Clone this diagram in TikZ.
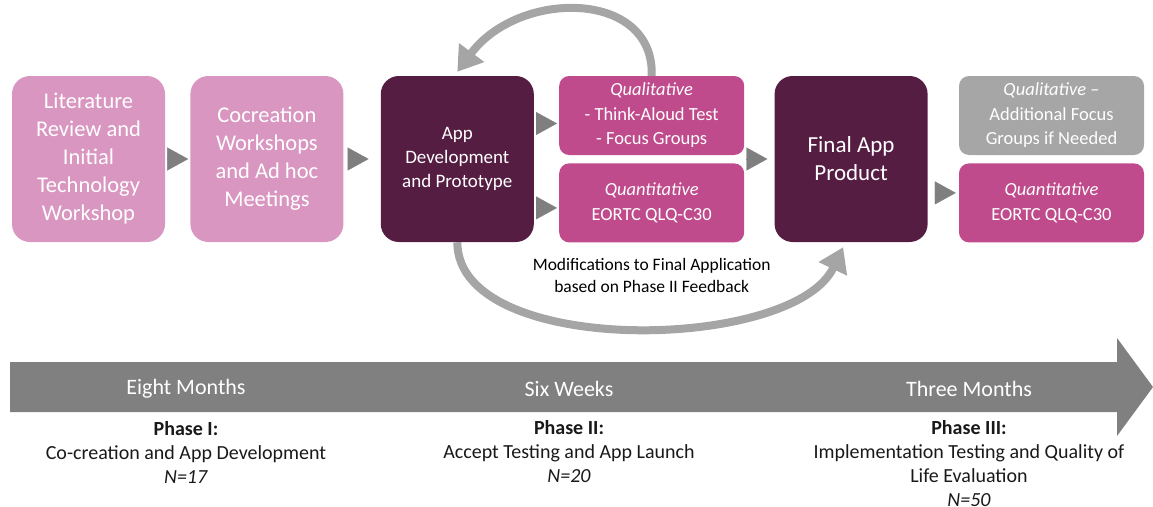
\documentclass[tikz,border=0pt]{standalone}
\usepackage{fontspec}
\setmainfont{Carlito}
\usetikzlibrary{arrows.meta,positioning}
\definecolor{softpink}{HTML}{D896C0}
\definecolor{plum}{HTML}{561D43}
\definecolor{berry}{HTML}{BF4B8C}
\definecolor{boxgray}{HTML}{A6A6A6}
\definecolor{trigray}{HTML}{7F7F7F}
\definecolor{loopgray}{HTML}{A5A5A5}
\definecolor{timegray}{HTML}{808080}

\tikzset{
  bigbox/.style={minimum width=153pt, minimum height=166pt, rounded corners=18pt,
    text=white, align=center, inner sep=0pt},
  softbox/.style={bigbox, fill=softpink, font=\fontsize{22.5}{28}\selectfont},
  darkbox/.style={bigbox, fill=plum},
  smallbox/.style={minimum width=185pt, minimum height=79pt, rounded corners=10pt,
    text=white, align=center, inner sep=0pt, fill=berry,
    font=\fontsize{18.5}{24.5}\selectfont},
  tri/.style={<-, draw=trigray, fill=trigray, line width=0.3pt,
    >={Triangle[length=21pt,width=23pt]}},
  loopline/.style={draw=loopgray, line width=8pt,
    -{Triangle[length=24pt,width=30pt]}},
  notelabel/.style={align=center, inner sep=0pt, font=\fontsize{17.5}{22}\selectfont},
  timelabel/.style={text=white, inner sep=0pt, font=\fontsize{22}{26}\selectfont},
  phasetext/.style={align=center, inner sep=0pt, text=black!90,
    font=\fontsize{20}{24}\selectfont}
}

\begin{document}
\begin{tikzpicture}[x=1pt, y=1pt, node distance=25pt]
 \useasboundingbox (0,0) rectangle (1153,-506);

 \node[softbox] (lit) at (88.5,-159) {Literature\\Review and\\Initial\\Technology\\Workshop};
 \node[softbox, right=25pt of lit] (cocreate) {Cocreation\\Workshops\\and Ad hoc\\Meetings}
     edge[tri, shorten <=2pt, shorten >=2pt] (lit);
 \node[darkbox, right=37pt of cocreate, font=\fontsize{19}{24}\selectfont] (proto)
     {App\\Development\\and Prototype}
     edge[tri, shorten <=12pt, shorten >=4pt] (cocreate);

 \node[smallbox, right=25pt of proto.north east, anchor=north west] (qual1)
     {\textit{Qualitative}\\- Think-Aloud Test\\- Focus Groups};
 \node[smallbox, below=8pt of qual1] (quant1)
     {\textit{Quantitative}\\EORTC QLQ-C30};

 \node[darkbox, right=30pt of qual1.north east, anchor=north west,
     font=\fontsize{23}{28}\selectfont] (final) {Final App\\Product};

 \node[smallbox, fill=boxgray, right=31pt of final.north east, anchor=north west] (qual2)
     {\textit{Qualitative} –\\Additional Focus\\Groups if Needed};
 \node[smallbox, below=8pt of qual2] (quant2)
     {\textit{Quantitative}\\EORTC QLQ-C30};

 \path (qual1.west) ++(0,-8) coordinate (qualin);
 \path (quant1.west) ++(0,-5) coordinate (quantin);
 \path (quant2.west) ++(0,10) coordinate (finalout);
 \draw[tri, shorten <=2pt, shorten >=2pt] (qualin) -- (qualin -| proto.east);
 \draw[tri, shorten <=2pt, shorten >=2pt] (quantin) -- (quantin -| proto.east);
 \draw[tri, shorten <=7pt, shorten >=2pt] (final.west) -- (final.west -| qual1.east);
 \draw[tri, shorten <=3pt, shorten >=7pt] (finalout) -- (finalout -| final.east);

 \draw[loopline] (qual1.north) .. controls +(3,86) and +(62,83) .. ([yshift=4pt]proto.north);
 \draw[loopline] (proto.south) .. controls +(0,-116) and +(-50,-105)
     .. ([xshift=-8pt, yshift=-5pt]final.south);
 \node[notelabel, below=16pt of quant1] (modnote)
     {Modifications to Final Application\\based on Phase II Feedback};

 \fill[timegray] (10,-362) -- (1117,-362) -- (1117,-338) -- (1153,-387)
     -- (1117,-436) -- (1117,-412) -- (10,-412) -- cycle;
 \node[timelabel] (eight) at (186,-389) {Eight Months};
 \node[timelabel] (sixweeks) at (569,-389) {Six Weeks};
 \node[timelabel] (threemonths) at (969,-389) {Three Months};

 \node[phasetext, below=23pt of eight] (phaseone)
     {\textbf{Phase I:}\\Co-creation and App Development\\\textit{N=17}};
 \node[phasetext, below=23pt of sixweeks] (phasetwo)
     {\textbf{Phase II:}\\Accept Testing and App Launch\\\textit{N=20}};
 \node[phasetext, below=23pt of threemonths] (phasethree)
     {\textbf{Phase III:}\\Implementation Testing and Quality of\\Life Evaluation\\\textit{N=50}};
\end{tikzpicture}
\end{document}
